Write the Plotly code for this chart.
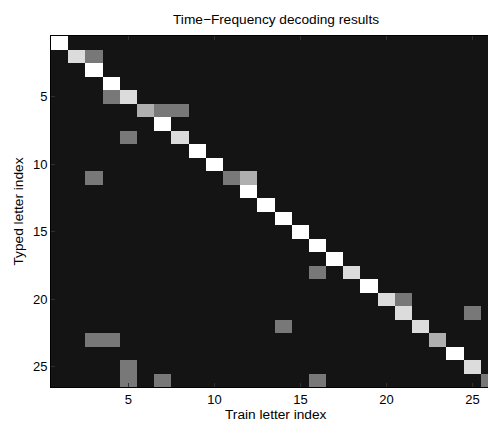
import numpy as np
import plotly.graph_objects as go

# Non-zero cells of the decoding matrix (typed letter row, train letter column, grey level 0-4)
typed_idx = [1, 2, 2, 3, 4, 5, 5, 6, 6, 6, 7, 8, 8, 9, 10, 11, 11, 11, 12, 13, 14, 15, 16, 17,
             18, 18, 19, 20, 20, 21, 21, 22, 22, 23, 23, 23, 24, 25, 25, 26, 26, 26, 26]
train_idx = [1, 2, 3, 3, 4, 4, 5, 6, 7, 8, 7, 5, 8, 9, 10, 3, 11, 12, 12, 13, 14, 15, 16, 17,
             16, 18, 19, 20, 21, 21, 25, 14, 22, 3, 4, 23, 24, 5, 25, 5, 7, 16, 26]
score = [4, 3, 1, 4, 4, 1, 3, 2, 1, 1, 4, 1, 3, 4, 4, 1, 1, 2, 4, 4, 4, 4, 4, 4,
         1, 3, 4, 3, 1, 3, 1, 1, 3, 1, 1, 2, 4, 1, 3, 1, 1, 1, 1]

n_letters = 26
letters = list(range(1, n_letters + 1))
tick_vals = [5, 10, 15, 20, 25]

z = np.zeros((n_letters, n_letters))
for r, c, s in zip(typed_idx, train_idx, score):
    z[r - 1, c - 1] = s

W, H = 488, 423
L, R, T, B = 51, 0, 36, 36
px_per_unit = 17.2
x_hi = 0.5 + (W - L - R) / px_per_unit
pw, ph = W - L - R, H - T - B

font = "Liberation Sans, Arial, Helvetica, sans-serif"


def to_paper(xp, yp):
    """window pixel -> paper coords"""
    return (xp - L) / pw, 1 - (yp - T) / ph


fig = go.Figure(go.Heatmap(
    z=z, x=letters, y=letters,
    zmin=0, zmax=4,
    colorscale=[[0, "#141414"], [0.25, "#787878"], [0.5, "#afafaf"],
                [0.75, "#dcdcdc"], [1, "#ffffff"]],
    showscale=False, xgap=0, ygap=0, hoverinfo="skip",
))

tx, ty = to_paper(276, 19)
xlx, xly = to_paper(276, 414)
ylx, yly = to_paper(18, 211.5)

fig.update_layout(
    width=W, height=H,
    margin=dict(l=L, r=R, t=T, b=B, pad=0),
    paper_bgcolor="white", plot_bgcolor="#141414",
    font=dict(family=font, size=13, color="black"),
    xaxis=dict(range=[0.5, x_hi], tickvals=tick_vals, ticks="inside", ticklen=4,
               tickcolor="#303030", showline=True, linecolor="black", linewidth=1,
               mirror="ticks", showgrid=False, zeroline=False,
               tickfont=dict(size=13)),
    yaxis=dict(range=[26.5, 0.5], tickvals=tick_vals, ticks="inside", ticklen=4,
               tickcolor="#303030", showline=True, linecolor="black", linewidth=1,
               showgrid=False, zeroline=False, tickfont=dict(size=13)),
    annotations=[
        dict(text="Time\u2212Frequency decoding results", x=tx, y=ty,
             xref="paper", yref="paper", showarrow=False,
             font=dict(size=13.7, family=font), xanchor="center", yanchor="middle"),
        dict(text="Train letter index", x=xlx, y=xly,
             xref="paper", yref="paper", showarrow=False,
             font=dict(size=13.7, family=font), xanchor="center", yanchor="middle"),
        dict(text="Typed letter index", x=ylx, y=yly, textangle=-90,
             xref="paper", yref="paper", showarrow=False,
             font=dict(size=13.7, family=font), xanchor="center", yanchor="middle"),
    ],
)

fig.write_html("out.html", config={"displayModeBar": False},
               post_script="document.body.style.margin='0';document.body.style.overflow='hidden';")
